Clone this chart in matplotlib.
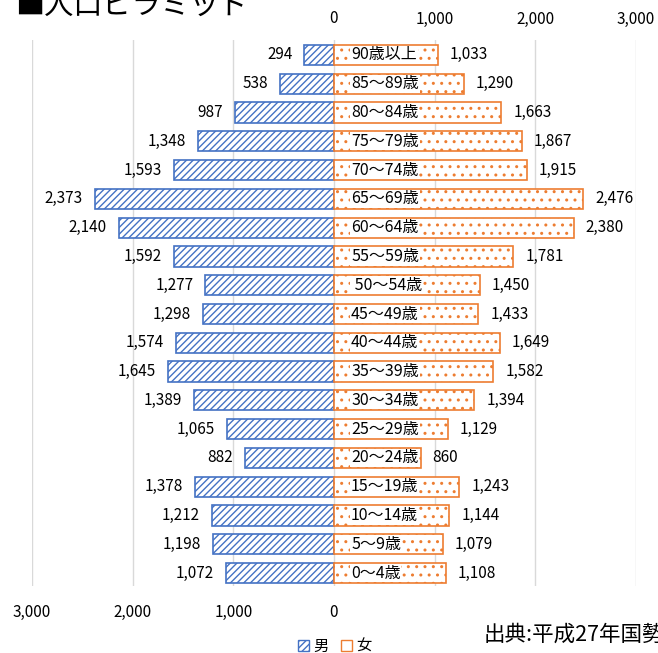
import matplotlib
matplotlib.use("Agg")
import matplotlib.pyplot as plt
from matplotlib.patches import Patch
import numpy as np

plt.rcParams['font.family'] = ['Noto Sans CJK JP', 'DejaVu Sans']
plt.rcParams['hatch.linewidth'] = 1.0

# 上から順 (90歳以上 -> 0～4歳)
ages = ["90歳以上", "85～89歳", "80～84歳", "75～79歳", "70～74歳", "65～69歳",
        "60～64歳", "55～59歳", " 50～54歳", "45～49歳", "40～44歳", "35～39歳",
        "30～34歳", "25～29歳", "20～24歳", "15～19歳", "10～14歳", "5～9歳", "0～4歳"]
male = [294, 538, 987, 1348, 1593, 2373, 2140, 1592, 1277, 1298,
        1574, 1645, 1389, 1065, 882, 1378, 1212, 1198, 1072]
female = [1033, 1290, 1663, 1867, 1915, 2476, 2380, 1781, 1450, 1433,
          1649, 1582, 1394, 1129, 860, 1243, 1144, 1079, 1108]
grid_x = [-3000, -2000, -1000, 0, 1000, 2000, 3000]
bottom_ticks = [-3000, -2000, -1000, 0]
top_ticks = [0, 1000, 2000, 3000]

blue = "#4472C4"
orange = "#ED7D31"

fig = plt.figure(figsize=(6.58, 6.53), dpi=100)
ax = fig.add_axes([32 / 658, 1 - 586 / 653, 604 / 658, 546 / 653])

n = len(ages)
y = np.arange(n)[::-1]

for g in grid_x:
    ax.axvline(g, color="#D9D9D9", linewidth=1, zorder=0)

ax.barh(y, [-m for m in male], height=0.7, color="white", edgecolor=blue,
        hatch="/////", linewidth=1.2, zorder=3)
ax.barh(y, female, height=0.7, color="white", edgecolor=orange,
        hatch="..", linewidth=1.2, zorder=3)

for yi, m, f, a in zip(y, male, female, ages):
    ax.text(-m - 120, yi, f"{m:,}", ha="right", va="center", fontsize=11)
    ax.text(f + 120, yi, f"{f:,}", ha="left", va="center", fontsize=11)
    ax.text(170, yi, a, ha="left", va="center", fontsize=11.5, zorder=4,
            bbox=dict(facecolor="white", edgecolor="none", pad=0.5))

ax.set_xlim(-3000, 3000)
ax.set_ylim(-0.45, n - 1 + 0.52)
ax.set_xticks(bottom_ticks)
ax.set_xticklabels([f"{abs(t):,}" for t in bottom_ticks])
ax.tick_params(axis="x", length=0, labelsize=11, pad=13)
ax.set_yticks([])
for s in ax.spines.values():
    s.set_visible(False)

# 上の目盛り (0～3,000)
top = ax.secondary_xaxis("top")
top.set_xticks(top_ticks)
top.set_xticklabels([f"{t:,}" for t in top_ticks])
top.tick_params(length=0, labelsize=11, pad=9)
top.spines["top"].set_visible(False)

fig.text(15 / 658, 1 - 6 / 653, "■人口ピラミッド", fontsize=21, ha="left", va="center")
fig.text(484 / 658, 1 - 635 / 653, "出典:平成27年国勢調査", fontsize=15.5, ha="left", va="center")

handles = [Patch(facecolor="white", edgecolor=blue, hatch="/////", label="男"),
           Patch(facecolor="white", edgecolor=orange, hatch="", label="女")]
fig.legend(handles=handles, loc="center", bbox_to_anchor=(335 / 658, 1 - 646 / 653),
           ncol=2, frameon=False, fontsize=11, handlelength=0.7, handleheight=0.7,
           handletextpad=0.3, columnspacing=0.8)

fig.savefig("out.png", dpi=100)
